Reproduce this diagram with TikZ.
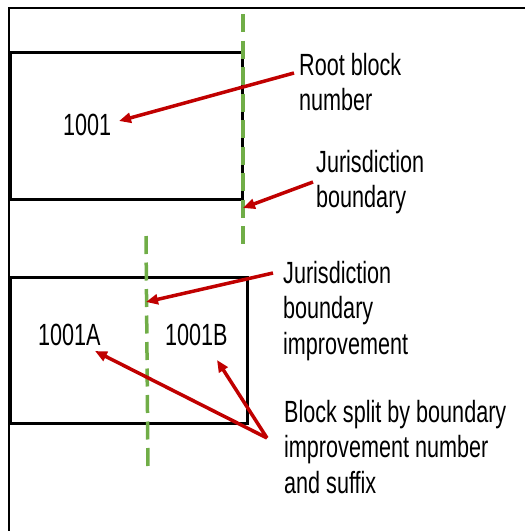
\documentclass[tikz,border=0pt]{standalone}
\usepackage{fontspec}
\setmainfont{Liberation Sans}
\usepackage{graphicx}
\usetikzlibrary{arrows.meta}
\definecolor{arrowred}{HTML}{C00000}
\definecolor{lineg}{HTML}{70AD47}
\newcommand{\tallbox}[1]{\scalebox{1}[1.42]{\begin{tabular}[t]{@{}l@{}}#1\end{tabular}}}

\begin{document}
\begin{tikzpicture}[x=1pt,y=-1pt,>={Triangle[length=12pt,width=10pt]},
    lbl/.style={anchor=base west,inner sep=0pt,font=\fontsize{21.6}{25}\selectfont},
    block/.style={draw=black,line width=3pt},
    juris/.style={draw=lineg,line width=3.5pt,dash pattern=on 18pt off 8.5pt},
    pointer/.style={->,draw=arrowred,fill=arrowred,line width=3.5pt}]

    \useasboundingbox (0,0) rectangle (525,531);

    % frame
    \draw[line width=2.5pt] (9,531) -- (9,8) -- (525,8);

    % blocks
    \draw[block] (10,52) rectangle (242,199);
    \draw[block] (10,277) rectangle (247,423);

    % jurisdiction lines
    \coordinate (j1top) at (243,14);
    \coordinate (j1bot) at (243,250);
    \coordinate (j2top) at (146,236);
    \coordinate (j2bot) at (148,470);
    \draw[juris] (j1top) -- (j1bot);
    \draw[juris] (j2top) -- (j2bot);

    % block numbers
    \node[lbl] (root) at (63,135) {\tallbox{1001}};
    \node[lbl] (blockA) at (38,345) {\tallbox{1001A}};
    \node[lbl] (blockB) at (165,345) {\tallbox{1001B}};

    % notes
    \node[lbl] (rootnote) at (299,75) {\tallbox{Root block\\number}};
    \node[lbl] (jbnote) at (316,172) {\tallbox{Jurisdiction\\boundary}};
    \node[lbl] (jbinote) at (283,283) {\tallbox{Jurisdiction\\boundary\\improvement}};
    \node[lbl] (splitnote) at (284,422) {\tallbox{Block split by boundary\\improvement number\\and suffix}};

    % arrow ends
    \coordinate (rootS) at (294,73);
    \coordinate (rootT) at (119,121);
    \coordinate (jbS) at (313,182);
    \coordinate (jbT) at (243,208);
    \coordinate (jbiS) at (273,273);
    \coordinate (jbiT) at (146,302);
    \coordinate (splitS) at (267,438);
    \coordinate (splitA) at (95,351);
    \coordinate (splitB) at (217,360);

    \draw[pointer] (rootS) to (rootT);
    \draw[pointer] (jbS) to (jbT);
    \draw[pointer] (jbiS) to (jbiT);
    \draw[pointer] (splitS) to (splitA);
    \draw[pointer] (splitS) to (splitB);
\end{tikzpicture}
\end{document}
